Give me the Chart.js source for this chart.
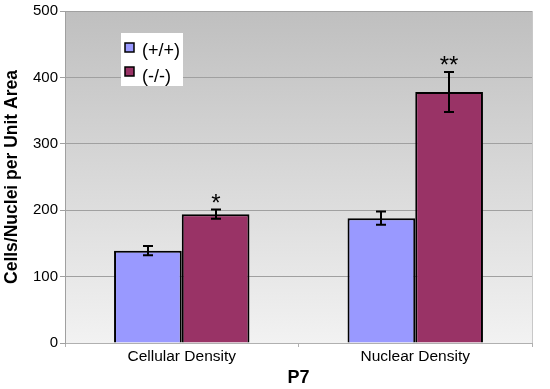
<!DOCTYPE html>
<html><head><meta charset="utf-8">
<script src="https://cdn.jsdelivr.net/npm/chart.js@4"></script>
<style>html,body{margin:0;padding:0;background:#fff}#wrap{width:550px;height:389px}</style>
</head><body><div id="wrap"><canvas id="c" width="550" height="389"></canvas></div>
<script>
const categories = ['Cellular Density', 'Nuclear Density'];
const seriesLabels = ['(+/+)', '(-/-)'];
const wildType = [139, 188];
const knockout = [194, 378];
const wildTypeErr = [7, 10];
const knockoutErr = [7, 30];
const significance = ['*', '**'];
const yTicks = [0, 100, 200, 300, 400, 500];

const FONT = '"Liberation Sans", Arial, sans-serif';

const bgPlugin = {
  id: 'bg',
  beforeDraw(chart) {
    const {ctx, chartArea: a} = chart;
    const g = ctx.createLinearGradient(0, a.top, 0, a.bottom);
    g.addColorStop(0, '#bfbfbf');
    g.addColorStop(1, '#f2f2f2');
    ctx.save();
    ctx.fillStyle = g;
    ctx.fillRect(a.left, a.top, a.right - a.left, a.bottom - a.top);
    ctx.strokeStyle = '#c8c8c8';
    ctx.lineWidth = 1;
    ctx.beginPath();
    ctx.moveTo(a.right + 0.5, a.top);
    ctx.lineTo(a.right + 0.5, a.bottom + 3);
    ctx.stroke();
    ctx.restore();
  }
};

const errPlugin = {
  id: 'err',
  afterDatasetsDraw(chart) {
    const {ctx} = chart;
    const y = chart.scales.y;
    const errs = [wildTypeErr, knockoutErr];
    ctx.save();
    ctx.strokeStyle = '#000';
    ctx.lineWidth = 2;
    chart.data.datasets.forEach((ds, di) => {
      const meta = chart.getDatasetMeta(di);
      meta.data.forEach((bar, i) => {
        const v = ds.data[i], e = errs[di][i];
        const x = Math.round(bar.x);
        const yt = y.getPixelForValue(v + e), yb = y.getPixelForValue(v - e);
        ctx.beginPath();
        ctx.moveTo(x, yt); ctx.lineTo(x, yb);
        ctx.moveTo(x - 5, yt); ctx.lineTo(x + 5, yt);
        ctx.moveTo(x - 5, yb); ctx.lineTo(x + 5, yb);
        ctx.stroke();
        if (di === 1) {
          ctx.fillStyle = '#000';
          ctx.font = '24px ' + FONT;
          ctx.textAlign = 'center';
          ctx.textBaseline = 'alphabetic';
          ctx.fillText(significance[i], x, yt + 1);
        }
      });
    });
    ctx.restore();
  }
};

const legendPlugin = {
  id: 'customLegend',
  afterDraw(chart) {
    const {ctx} = chart;
    ctx.save();
    ctx.fillStyle = '#fff';
    ctx.fillRect(121, 33, 62, 53);
    ctx.font = '18px ' + FONT;
    ctx.textBaseline = 'middle';
    ctx.textAlign = 'left';
    chart.data.datasets.forEach((ds, i) => {
      const top = 43 + i * 24;
      ctx.fillStyle = ds.backgroundColor;
      ctx.fillRect(125, top, 9, 9);
      ctx.strokeStyle = '#000';
      ctx.lineWidth = 1.5;
      ctx.strokeRect(125, top, 9, 9);
      ctx.fillStyle = '#000';
      ctx.fillText(ds.label, 142, 51 + i * 26);
    });
    ctx.restore();
  }
};

new Chart(document.getElementById('c'), {
  type: 'bar',
  data: {
    labels: categories,
    datasets: [
      {label: seriesLabels[0], data: wildType, backgroundColor: '#9999FF', borderColor: '#000', borderWidth: 2, borderSkipped: 'bottom'},
      {label: seriesLabels[1], data: knockout, backgroundColor: '#993366', borderColor: '#000', borderWidth: 2, borderSkipped: 'bottom'}
    ]
  },
  options: {
    responsive: false,
    animation: false,
    devicePixelRatio: 1,
    layout: {padding: {top: 11, right: 18, left: 0, bottom: 0}},
    plugins: {legend: {display: false}, tooltip: {enabled: false}},
    datasets: {bar: {categoryPercentage: 0.58, barPercentage: 1}},
    scales: {
      x: {
        grid: {drawOnChartArea: false, color: '#b0b0b0', tickLength: 4, offset: true},
        border: {color: '#b0b0b0'},
        ticks: {color: '#000', font: {family: FONT, size: 15.5}, padding: 0},
        title: {display: true, text: 'P7', color: '#000', font: {family: FONT, size: 18, weight: 'bold'}, padding: {top: 8, bottom: 0}},
        afterFit(s) { s.height = 46; }
      },
      y: {
        min: 0, max: 500,
        afterBuildTicks(s) { s.ticks = yTicks.map(v => ({value: v})); },
        grid: {color: '#a0a0a0', tickLength: 5},
        border: {color: '#a0a0a0'},
        ticks: {color: '#000', font: {family: FONT, size: 15}, padding: 2},
        title: {display: true, text: 'Cells/Nuclei per Unit Area', color: '#000', font: {family: FONT, size: 17.5, weight: 'bold'}, padding: {top: 2, bottom: 2}},
        afterFit(s) { s.width = 65; }
      }
    }
  },
  plugins: [bgPlugin, errPlugin, legendPlugin]
});
</script></body></html>
